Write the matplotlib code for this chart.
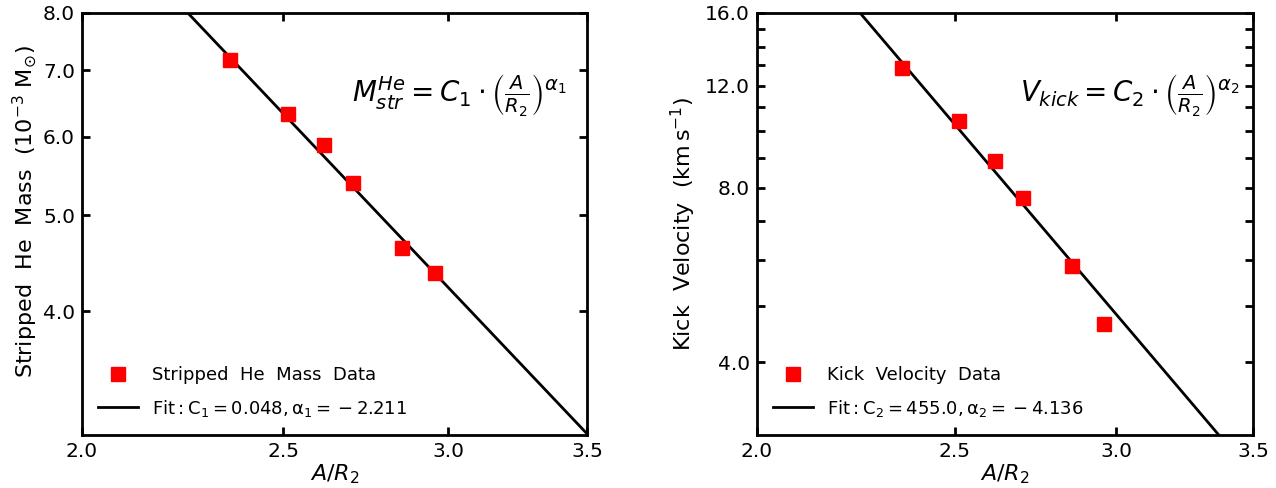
import numpy as np
import matplotlib.pyplot as plt
from matplotlib.ticker import FixedLocator, NullLocator, FormatStrFormatter, NullFormatter

# data
ratio = [2.356, 2.513, 2.615, 2.70, 2.852, 2.957]
he_mass = [7.18, 6.33, 5.88, 5.39, 4.63, 4.37]         # 10^-3 Msun
kick_vel = [12.86, 10.42, 8.89, 7.68, 5.86, 4.66]      # km/s

# fit parameters quoted in the legends
C1, alpha1 = 0.048, -2.211
C2, alpha2 = 455.0, -4.136

x_ticks = [2.0, 2.5, 3.0, 3.5]
mass_ticks = [4.0, 5.0, 6.0, 7.0, 8.0]
kick_ticks = [4.0, 8.0, 12.0, 16.0]
kick_minor = [5, 6, 7, 9, 10, 11, 13, 14, 15]

plt.rcParams['mathtext.fontset'] = 'dejavusans'

fig = plt.figure(figsize=(12.76, 4.88), dpi=100)
ax1 = fig.add_axes([0.0643, 0.1086, 0.3958, 0.8648])
ax2 = fig.add_axes([0.5933, 0.1086, 0.3887, 0.8648])

xfit = np.linspace(2.0, 3.5, 200)

panels = [
    (ax1, he_mass, C1 * 1e3 * xfit ** alpha1, (3.0, 8.0), mass_ticks, [],
     'Stripped  He  Mass  Data',
     r'$\rm Fit: C_1 = 0.048, \alpha_1 = {} - 2.211$',
     r'Stripped  He  Mass  (10$^{-3}$ M$_{\odot}$)',
     r'$M_{str}^{He} = C_1 \cdot \left(\frac{A}{R_2}\right)^{\alpha_1}$', 0.535, 3),
    (ax2, kick_vel, C2 * xfit ** alpha2, (3.0, 16.0), kick_ticks, kick_minor,
     'Kick  Velocity  Data',
     r'$\rm Fit: C_2 = 455.0, \alpha_2 = {} - 4.136$',
     r'Kick  Velocity  $(\rm km\,s^{-1})$',
     r'$V_{kick} = C_2 \cdot \left(\frac{A}{R_2}\right)^{\alpha_2}$', 0.53, 5),
]

for ax, yv, yfit, ylim, yt, ym, lab_d, lab_f, ylab, eq, eqx, lpad in panels:
    ax.plot(ratio, yv, 's', color='red', markersize=10, label=lab_d, zorder=3)
    ax.plot(xfit, yfit, '-', color='black', lw=2, label=lab_f)
    ax.set_xscale('log')
    ax.set_yscale('log')
    ax.set_xlim(2.0, 3.5)
    ax.set_ylim(*ylim)

    ax.xaxis.set_major_locator(FixedLocator(x_ticks))
    ax.xaxis.set_major_formatter(FormatStrFormatter('%.1f'))
    ax.xaxis.set_minor_locator(NullLocator())
    ax.xaxis.set_minor_formatter(NullFormatter())
    ax.yaxis.set_major_locator(FixedLocator(yt))
    ax.yaxis.set_major_formatter(FormatStrFormatter('%.1f'))
    ax.yaxis.set_minor_locator(FixedLocator(ym))
    ax.yaxis.set_minor_formatter(NullFormatter())

    ax.tick_params(which='both', direction='in', top=True, right=True, width=2)
    ax.tick_params(which='major', length=6, labelsize=14.5, pad=5)
    ax.tick_params(which='minor', length=6)
    for sp in ax.spines.values():
        sp.set_linewidth(2)

    ax.set_xlabel(r'$A/R_2$', fontsize=16, labelpad=1)
    ax.set_ylabel(ylab, fontsize=16, labelpad=lpad)
    ax.text(eqx, 0.805, eq, transform=ax.transAxes, fontsize=20,
            ha='left', va='center')
    ax.legend(loc='lower left', frameon=False, fontsize=13, numpoints=1,
              handlelength=2.2, handletextpad=0.75, labelspacing=0.75)

ax1.yaxis.label.set_y(0.53)

plt.savefig('out.png', dpi=100)
